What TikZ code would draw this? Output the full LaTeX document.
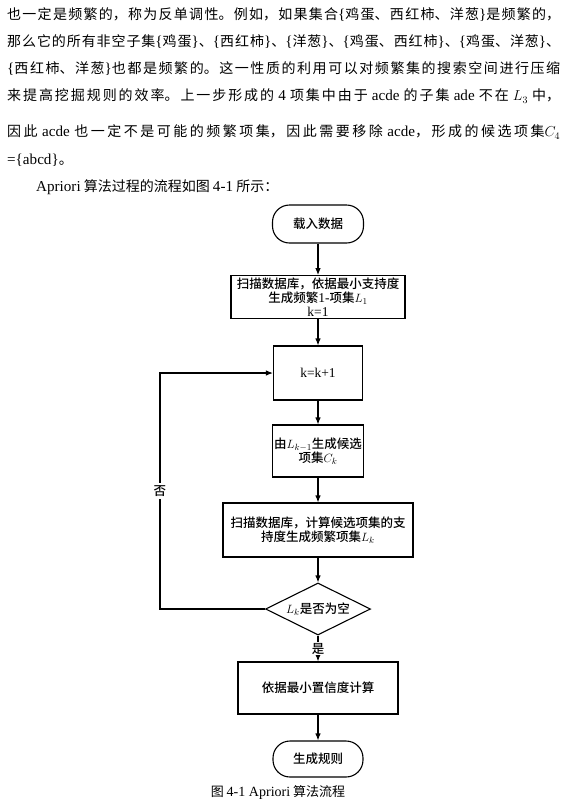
\documentclass[tikz,border=0pt]{standalone}
\usepackage{fontspec}
\setmainfont{Noto Sans CJK SC}
\newfontfamily\chartfont{Noto Sans CJK SC Medium}
\newfontfamily\latfont[Scale=1.08]{Liberation Serif}
\usepackage{tikz}
\usetikzlibrary{arrows.meta,shapes.geometric}
\XeTeXlinebreaklocale "zh"
\XeTeXlinebreakskip=0pt plus 3pt minus 0.3pt
\newcommand\en[1]{{\latfont #1}}
\newcommand\bopen{{\latfont\{}}
\newcommand\bclose{{\latfont\}}}
\tikzset{flow/.style={-{Latex[length=7pt,width=5.5pt]},line width=1.1pt},
box/.style={draw,line width=1.1pt,align=center,inner sep=2pt,font=\fontsize{12.5}{14}\selectfont\chartfont},
term/.style={box,rounded corners=17pt},
decide/.style={box,diamond,aspect=2,inner sep=0pt,minimum width=105pt,minimum height=52pt},
textrow/.style={anchor=west,inner sep=0pt,text width=553pt,align=justify,font=\fontsize{14}{16}\selectfont,
  execute at begin node={\noindent\parfillskip=0pt\relax}},
plainrow/.style={anchor=west,inner sep=0pt,font=\fontsize{14}{16}\selectfont}}

\begin{document}
\begin{tikzpicture}[x=1pt,y=-1pt]
\useasboundingbox (0,0) rectangle (565,812);
% running text above the chart
\node[textrow] (row1) at (7,15) {也一定是频繁的，称为反单调性。例如，如果集合\bopen 鸡蛋、西红柿、洋葱\bclose 是频繁的，};
\node[textrow] (row2) at (7,42) {那么它的所有非空子集\bopen 鸡蛋\bclose 、\bopen 西红柿\bclose 、\bopen 洋葱\bclose 、\bopen 鸡蛋、西红柿\bclose 、\bopen 鸡蛋、洋葱\bclose 、};
\node[textrow] (row3) at (7,69) {\bopen 西红柿、洋葱\bclose 也都是频繁的。这一性质的利用可以对频繁集的搜索空间进行压缩};
\node[textrow] (row4) at (7,96) {来提高挖掘规则的效率。上一步形成的 \en{4} 项集中由于 \en{acde} 的子集 \en{ade} 不在 $L_3$ 中，};
\node[textrow] (row5) at (7,132) {因此 \en{acde} 也一定不是可能的频繁项集，因此需要移除 \en{acde}，形成的候选项集$C_4$};
\node[plainrow] (row6) at (7,160) {\en{=\{abcd\}}。};
\node[plainrow] (row7) at (36,187) {\en{Apriori} 算法过程的流程如图 \en{4-1} 所示：};
% flow chart
\node[term,minimum width=91pt,minimum height=38pt] (load) at (318,224) {载入数据};
\node[box,minimum width=174pt,minimum height=42pt] (scan) at (318,297) {扫描数据库，依据最小支持度\\生成频繁\en{1-}项集$L_1$\\\en{k=1}};
\node[box,minimum width=89pt,minimum height=54pt] (incr) at (318,373) {\en{k=k+1}};
\node[box,minimum width=91pt,minimum height=52pt] (gen) at (318,451) {由$L_{k-1}$生成候选\\项集$C_k$};
\node[box,minimum width=190pt,minimum height=54pt] (count) at (318,530) {扫描数据库，计算候选项集的支\\持度生成频繁项集$L_k$};
\node[decide] (empty) at (318,609) {$L_k$是否为空};
\node[box,minimum width=160pt,minimum height=52pt] (conf) at (318,688) {依据最小置信度计算};
\node[term,minimum width=90pt,minimum height=36pt] (rules) at (318,759) {生成规则};
\node[font=\fontsize{13}{15}\selectfont] (cap) at (278,792) {图 \en{4-1 Apriori} 算法流程};
\draw[flow] (load) -- (scan);
\draw[flow] (scan) -- (incr);
\draw[flow] (incr) -- (gen);
\draw[flow] (gen) -- (count);
\draw[flow] (count) -- (empty);
\draw[flow] (empty) -- node[fill=white,inner sep=1pt,font=\fontsize{12.5}{14}\selectfont\chartfont] {是} (conf);
\draw[flow] (conf) -- (rules);
\draw[flow] (empty.west) -- ++(-105,0) |- node[pos=0.25,fill=white,inner sep=3pt,font=\fontsize{12.5}{14}\selectfont\chartfont] {否} (incr.west);
\end{tikzpicture}
\end{document}
